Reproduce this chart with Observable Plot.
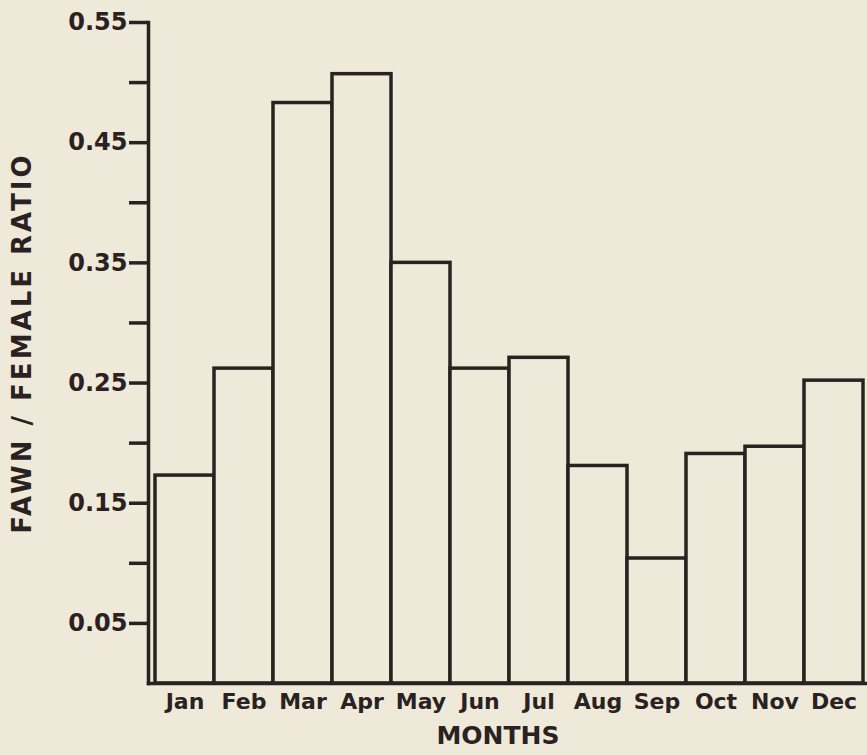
<!DOCTYPE html>
<html><head><meta charset="utf-8">
<script src="https://cdn.jsdelivr.net/npm/d3@7"></script>
<script src="https://cdn.jsdelivr.net/npm/@observablehq/plot@0.6"></script>
<style>
html,body{margin:0;padding:0;background:#efe9da;}
#chart svg{display:block;}
</style></head><body><div id="chart"></div>
<script>
const months = ["Jan","Feb","Mar","Apr","May","Jun","Jul","Aug","Sep","Oct","Nov","Dec"];
const ratios = [0.173,0.262,0.483,0.507,0.350,0.262,0.271,0.181,0.104,0.191,0.197,0.252];
const yTicks = [0.05,0.10,0.15,0.20,0.25,0.30,0.35,0.40,0.45,0.50,0.55];
const yTickLabels = ["0.05","","0.15","","0.25","","0.35","","0.45","","0.55"];
const xTitle = "MONTHS";
const yTitle = "FAWN / FEMALE RATIO";

const data = months.map((m, i) => ({month: m, ratio: ratios[i]}));
const ink = "#2a2220";
const paper = "#efe9da";

const chart = Plot.plot({
  width: 867, height: 755,
  marginLeft: 148, marginRight: 2, marginTop: 22, marginBottom: 72,
  style: {background: "transparent", color: ink, fontFamily: "DejaVu Sans", fontWeight: "bold"},
  x: {type: "band", domain: months, padding: 0, insetLeft: 5, label: null},
  y: {domain: [0, 0.55], label: null},
  marks: [
    Plot.barY(data, {x: "month", y: "ratio", fill: paper, stroke: ink, strokeWidth: 3.5, inset: 0}),
    Plot.frame({anchor: "left", stroke: ink, strokeWidth: 3.5}),
    Plot.frame({anchor: "bottom", stroke: ink, strokeWidth: 3.5}),
    Plot.axisY(yTicks, {
      tickSize: 19, tickPadding: 2, strokeWidth: 3.5, fontSize: 24, fill: ink,
      tickFormat: d => yTickLabels[yTicks.findIndex(t => Math.abs(t - d) < 1e-9)]
    }),
    Plot.axisX({tickSize: 0, tickPadding: 10, fontSize: 22, fill: ink}),
    Plot.text([yTitle], {frameAnchor: "left", textAnchor: "middle", rotate: -90, dx: -126, dy: -10, fontSize: 26, fontWeight: "bold", fill: ink}),
    Plot.text([xTitle], {frameAnchor: "bottom", dx: -9, dy: 60, fontSize: 25, fontWeight: "bold", fill: ink})
  ]
});
document.getElementById("chart").appendChild(chart);
chart.querySelectorAll("text").forEach(t => {
  if (t.textContent === yTitle) t.setAttribute("letter-spacing", "3");
});
</script></body></html>
